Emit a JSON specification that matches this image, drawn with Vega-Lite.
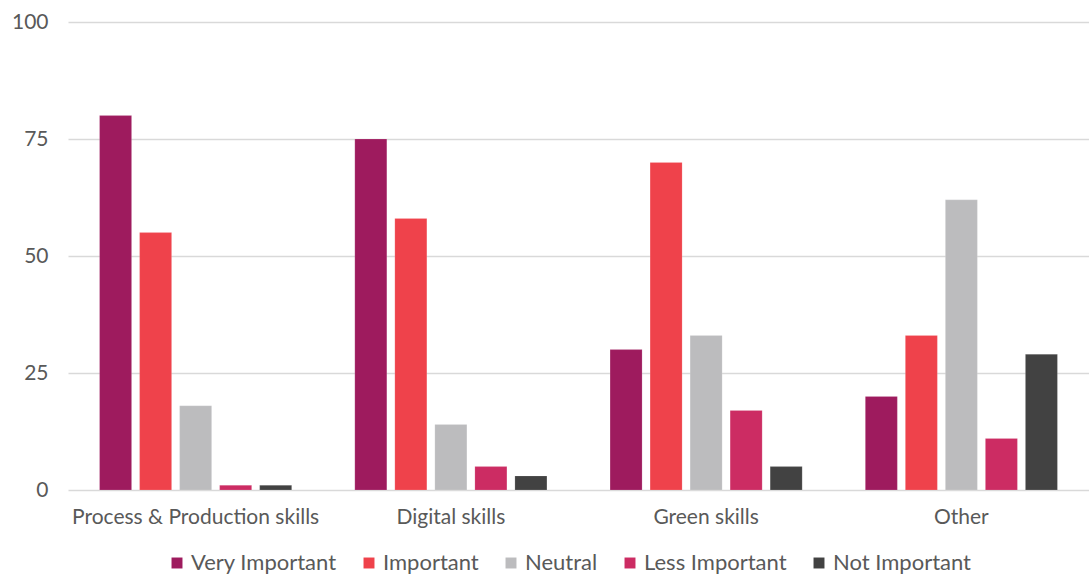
{
  "$schema": "https://vega.github.io/schema/vega-lite/v6.json",
  "width": 1021,
  "height": 468,
  "autosize": {"type": "none"},
  "padding": {"left": 68, "top": 22, "right": 0, "bottom": 85},
  "background": "white",
  "config": {
    "view": {"stroke": null},
    "font": "Lato"
  },
  "data": {
    "values": [
      {"category": "Process & Production skills", "importance": "Very Important", "value": 80},
      {"category": "Process & Production skills", "importance": "Important", "value": 55},
      {"category": "Process & Production skills", "importance": "Neutral", "value": 18},
      {"category": "Process & Production skills", "importance": "Less Important", "value": 1},
      {"category": "Process & Production skills", "importance": "Not Important", "value": 1},
      {"category": "Digital skills", "importance": "Very Important", "value": 75},
      {"category": "Digital skills", "importance": "Important", "value": 58},
      {"category": "Digital skills", "importance": "Neutral", "value": 14},
      {"category": "Digital skills", "importance": "Less Important", "value": 5},
      {"category": "Digital skills", "importance": "Not Important", "value": 3},
      {"category": "Green skills", "importance": "Very Important", "value": 30},
      {"category": "Green skills", "importance": "Important", "value": 70},
      {"category": "Green skills", "importance": "Neutral", "value": 33},
      {"category": "Green skills", "importance": "Less Important", "value": 17},
      {"category": "Green skills", "importance": "Not Important", "value": 5},
      {"category": "Other", "importance": "Very Important", "value": 20},
      {"category": "Other", "importance": "Important", "value": 33},
      {"category": "Other", "importance": "Neutral", "value": 62},
      {"category": "Other", "importance": "Less Important", "value": 11},
      {"category": "Other", "importance": "Not Important", "value": 29}
    ]
  },
  "mark": {"type": "bar", "stroke": "white", "strokeOpacity": 0.3, "strokeWidth": 0.5},
  "encoding": {
    "x": {
      "field": "category",
      "type": "nominal",
      "sort": ["Process & Production skills", "Digital skills", "Green skills", "Other"],
      "scale": {"paddingInner": 0.216, "paddingOuter": 0.108},
      "axis": {
        "title": null,
        "labelAngle": 0,
        "labelFontSize": 21,
        "labelLimit": 400,
        "labelColor": "#595959",
        "labelPadding": 16,
        "ticks": false,
        "domain": false
      }
    },
    "xOffset": {
      "field": "importance",
      "type": "nominal",
      "sort": ["Very Important", "Important", "Neutral", "Less Important", "Not Important"],
      "scale": {"paddingInner": 0.2, "paddingOuter": 0.1}
    },
    "y": {
      "field": "value",
      "type": "quantitative",
      "scale": {"domain": [0, 100]},
      "axis": {
        "title": null,
        "values": [0, 25, 50, 75, 100],
        "labelFontSize": 21,
        "labelColor": "#595959",
        "labelPadding": 20,
        "ticks": false,
        "domain": false,
        "gridColor": "#D9D9D9",
        "gridWidth": 1.5
      }
    },
    "color": {
      "field": "importance",
      "type": "nominal",
      "sort": ["Very Important", "Important", "Neutral", "Less Important", "Not Important"],
      "scale": {
        "domain": ["Very Important", "Important", "Neutral", "Less Important", "Not Important"],
        "range": ["#9E1B5E", "#EF424B", "#BCBCBE", "#CC2C63", "#424242"]
      },
      "legend": {
        "title": null,
        "orient": "none",
        "legendX": 98,
        "legendY": 530,
        "direction": "horizontal",
        "symbolType": "square",
        "symbolSize": 120,
        "symbolStrokeWidth": 0,
        "labelFontSize": 22,
        "labelLimit": 400,
        "labelColor": "#595959",
        "columnPadding": 21,
        "labelOffset": 3
      }
    }
  }
}
